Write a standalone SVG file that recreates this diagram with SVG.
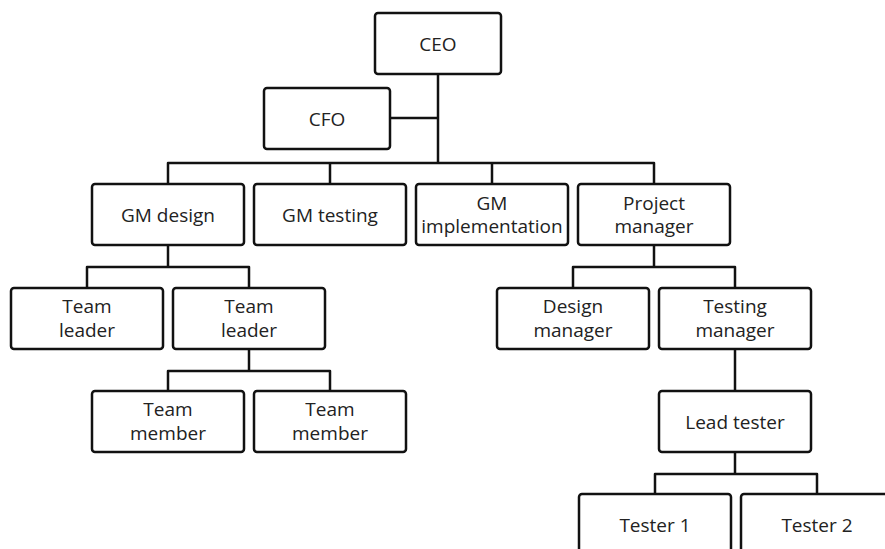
<svg xmlns="http://www.w3.org/2000/svg" width="885" height="549" viewBox="0 0 885 549">
  <style>
    .box { fill: #ffffff; stroke: #111111; stroke-width: 2.5; }
    .lbl { font-family: "Open Sans", "Noto Sans", "DejaVu Sans", sans-serif; font-size: 19px; fill: #222222; text-anchor: middle; }
    .wire { fill: none; stroke: #111111; stroke-width: 2.5; stroke-linejoin: round; }
  </style>
  <rect width="885" height="549" fill="#ffffff"/>

  <!-- reporting lines -->
  <g id="connectors">
    <path class="wire" d="M438,74 V163"/>
    <path class="wire" d="M390,118 H438"/>
    <path class="wire" d="M168,184 V163 H654 V184 M330,163 V184 M492,163 V184"/>
    <path class="wire" d="M168,245 V267"/>
    <path class="wire" d="M87,288 V267 H249 V288"/>
    <path class="wire" d="M654,245 V267"/>
    <path class="wire" d="M573,288 V267 H735 V288"/>
    <path class="wire" d="M249,349 V371"/>
    <path class="wire" d="M168,391 V371 H330 V391"/>
    <path class="wire" d="M735,349 V391"/>
    <path class="wire" d="M735,452 V474"/>
    <path class="wire" d="M655,494 V474 H817 V494"/>
  </g>

  <g id="ceo">
    <rect class="box" x="375" y="13" width="126" height="61" rx="3"/>
    <text class="lbl" x="438" y="50.5">CEO</text>
  </g>
  <g id="cfo">
    <rect class="box" x="264" y="88" width="126" height="61" rx="3"/>
    <text class="lbl" x="327" y="125.5">CFO</text>
  </g>

  <g id="gm-design">
    <rect class="box" x="92" y="184" width="152" height="61" rx="3"/>
    <text class="lbl" x="168" y="221.5">GM design</text>
  </g>
  <g id="gm-testing">
    <rect class="box" x="254" y="184" width="152" height="61" rx="3"/>
    <text class="lbl" x="330" y="221.5">GM testing</text>
  </g>
  <g id="gm-implementation">
    <rect class="box" x="416" y="184" width="152" height="61" rx="3"/>
    <text class="lbl" x="492" y="209.5">GM</text>
    <text class="lbl" x="492" y="232.5">implementation</text>
  </g>
  <g id="project-manager">
    <rect class="box" x="578" y="184" width="152" height="61" rx="3"/>
    <text class="lbl" x="654" y="209.5">Project</text>
    <text class="lbl" x="654" y="232.5">manager</text>
  </g>

  <g id="team-leader-1">
    <rect class="box" x="11" y="288" width="152" height="61" rx="3"/>
    <text class="lbl" x="87" y="313">Team</text>
    <text class="lbl" x="87" y="336.5">leader</text>
  </g>
  <g id="team-leader-2">
    <rect class="box" x="173" y="288" width="152" height="61" rx="3"/>
    <text class="lbl" x="249" y="313">Team</text>
    <text class="lbl" x="249" y="336.5">leader</text>
  </g>
  <g id="design-manager">
    <rect class="box" x="497" y="288" width="152" height="61" rx="3"/>
    <text class="lbl" x="573" y="313">Design</text>
    <text class="lbl" x="573" y="336.5">manager</text>
  </g>
  <g id="testing-manager">
    <rect class="box" x="659" y="288" width="152" height="61" rx="3"/>
    <text class="lbl" x="735" y="313">Testing</text>
    <text class="lbl" x="735" y="336.5">manager</text>
  </g>

  <g id="team-member-1">
    <rect class="box" x="92" y="391" width="152" height="61" rx="3"/>
    <text class="lbl" x="168" y="416">Team</text>
    <text class="lbl" x="168" y="439.5">member</text>
  </g>
  <g id="team-member-2">
    <rect class="box" x="254" y="391" width="152" height="61" rx="3"/>
    <text class="lbl" x="330" y="416">Team</text>
    <text class="lbl" x="330" y="439.5">member</text>
  </g>
  <g id="lead-tester">
    <rect class="box" x="659" y="391" width="152" height="61" rx="3"/>
    <text class="lbl" x="735" y="428.5">Lead tester</text>
  </g>

  <g id="tester-1">
    <rect class="box" x="579" y="494" width="152" height="61" rx="3"/>
    <text class="lbl" x="655" y="531.5">Tester 1</text>
  </g>
  <g id="tester-2">
    <rect class="box" x="741" y="494" width="152" height="61" rx="3"/>
    <text class="lbl" x="817" y="531.5">Tester 2</text>
  </g>
</svg>
